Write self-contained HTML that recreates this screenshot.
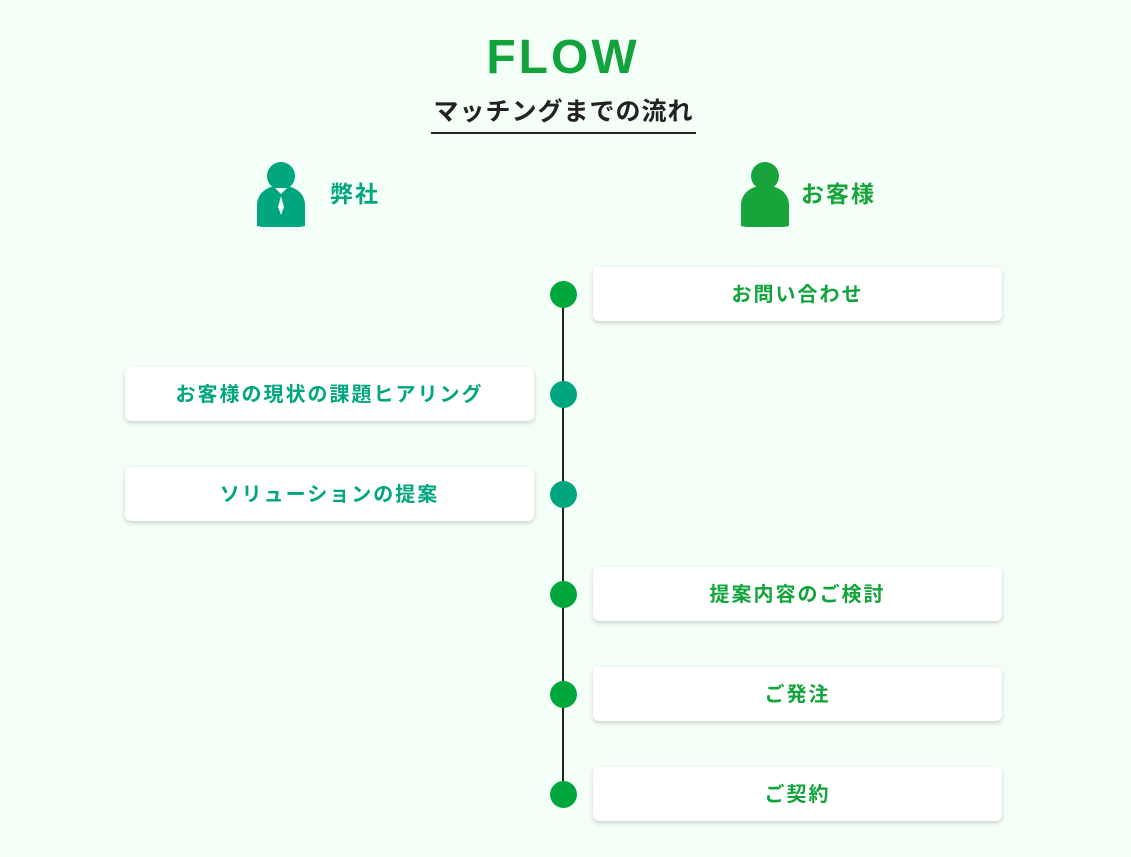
<!DOCTYPE html><html><head><meta charset="utf-8"><style>
body{margin:0;width:1131px;height:857px;background:#f4fff7;position:relative;font-family:"Liberation Sans","Noto Sans CJK JP",sans-serif;overflow:hidden}
.a{position:absolute}
.box{position:absolute;width:409px;height:54px;background:#fff;border-radius:6px;box-shadow:0 2px 5px rgba(0,0,0,.18);display:flex;align-items:center;justify-content:center;font-weight:bold;font-size:20px;letter-spacing:2px;padding-bottom:3px;box-sizing:border-box}
.l{left:125px;color:#00a67e}.r{left:593px;color:#10a43a}
.dot{position:absolute;left:550px;width:27px;height:27px;border-radius:50%}
</style></head><body>
<div class="a" style="left:0;width:1126px;top:30px;text-align:center;font-size:48px;color:#12a33d;letter-spacing:3px;font-weight:bold">FLOW</div>
<div class="a" style="left:431px;width:265px;top:92px;text-align:center;font-size:25px;font-weight:bold;color:#222;letter-spacing:1px;border-bottom:2px solid #222;padding-bottom:4px">マッチングまでの流れ</div>
<svg class="a" style="left:255px;top:161px" width="52" height="66"><circle cx="26" cy="15" r="14" fill="#00a67e"/><path d="M2,65 L2,42 Q4,30 16,26 L36,26 Q48,30 50,42 L50,65 Q26,70 2,65Z" fill="#00a67e"/><path d="M20,27 L26,33 L32,27Z M26,35 L29,46 L26,54 L23,46Z" fill="#f4fff7"/></svg>
<div class="a" style="left:330px;top:175px;font-size:23px;font-weight:bold;color:#00a67e;letter-spacing:2px">弊社</div>
<svg class="a" style="left:739px;top:161px" width="52" height="66"><circle cx="26" cy="15" r="14" fill="#17a43b"/><path d="M2,65 L2,42 Q4,30 16,26 L36,26 Q48,30 50,42 L50,65 Q26,70 2,65Z" fill="#17a43b"/></svg>
<div class="a" style="left:801px;top:175px;font-size:23px;font-weight:bold;color:#17a43b;letter-spacing:2px">お客様</div>
<div class="a" style="left:562px;top:294px;width:2px;height:500px;background:#222"></div>
<div class="box r" style="top:267px">お問い合わせ</div>
<div class="box l" style="top:367px">お客様の現状の課題ヒアリング</div>
<div class="box l" style="top:467px">ソリューションの提案</div>
<div class="box r" style="top:567px">提案内容のご検討</div>
<div class="box r" style="top:667px">ご発注</div>
<div class="box r" style="top:767px">ご契約</div>
<div class="dot" style="top:281px;background:#00a73c"></div>
<div class="dot" style="top:381px;background:#00a67e"></div>
<div class="dot" style="top:481px;background:#00a67e"></div>
<div class="dot" style="top:581px;background:#00a73c"></div>
<div class="dot" style="top:681px;background:#00a73c"></div>
<div class="dot" style="top:781px;background:#00a73c"></div>
</body></html>
